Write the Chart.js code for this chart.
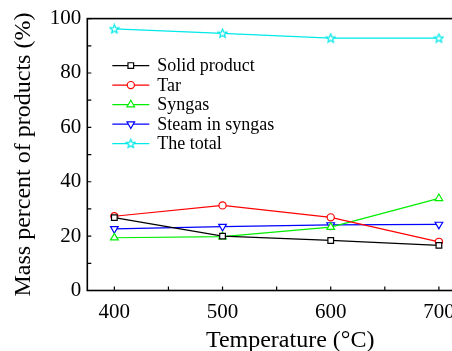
<!DOCTYPE html>
<html>
<head>
<meta charset="utf-8">
<script src="https://cdn.jsdelivr.net/npm/chart.js@4"></script>
<style>
  html, body { margin: 0; padding: 0; background: #fff; overflow: hidden; }
  #wrap { width: 510px; height: 351px; }
</style>
</head>
<body>
<div id="wrap"><canvas id="chart" width="510" height="351"></canvas></div>
<script>
// values
const temperatures = [400, 500, 600, 700];
const solidProduct = [26.8, 20.0, 18.4, 16.6];
const tar = [27.3, 31.3, 26.9, 17.9];
const syngas = [19.4, 19.8, 23.3, 33.9];
const steamInSyngas = [22.7, 23.5, 24.1, 24.3];
const total = [96.2, 94.6, 92.8, 92.8];
const seriesNames = ["Solid product", "Tar", "Syngas", "Steam in syngas", "The total"];
const xTicks = [400, 450, 500, 550, 600, 650, 700, 750];
const yTicks = [0, 10, 20, 30, 40, 50, 60, 70, 80, 90, 100];

const FONT = "'Liberation Serif', 'Times New Roman', serif";

// small outlined star used as point marker
function makeStar(color) {
  const c = document.createElement("canvas");
  c.width = 11;
  c.height = 11;
  const g = c.getContext("2d");
  g.beginPath();
  for (let i = 0; i < 10; i++) {
    const r = i % 2 === 0 ? 4.6 : 2.0;
    const a = -Math.PI / 2 + (i * Math.PI) / 5;
    const px = 5.5 + r * Math.cos(a);
    const py = 5.8 + r * Math.sin(a);
    if (i === 0) g.moveTo(px, py); else g.lineTo(px, py);
  }
  g.closePath();
  g.fillStyle = "#fff";
  g.fill();
  g.strokeStyle = color;
  g.lineWidth = 1.2;
  g.stroke();
  return c;
}

const toXY = (vals) => vals.map((v, i) => ({ x: temperatures[i], y: v }));

function series(label, vals, color, style, extra) {
  return Object.assign({
    label: label,
    data: toXY(vals),
    borderColor: color,
    backgroundColor: "#fff",
    pointBackgroundColor: "#fff",
    pointBorderColor: color,
    borderWidth: 1.2,
    pointBorderWidth: 1.2,
    pointRadius: 4,
    pointStyle: style,
    clip: false,
  }, extra || {});
}

const datasets = [
  series(seriesNames[0], solidProduct, "#000000", "rect"),
  series(seriesNames[1], tar, "#ff0000", "circle", { pointRadius: 3.6 }),
  series(seriesNames[2], syngas, "#00ee00", "triangle", { pointRadius: 4.4 }),
  series(seriesNames[3], steamInSyngas, "#0000ff", "triangle", { pointRadius: 4.4, pointRotation: 180 }),
  series(seriesNames[4], total, "#00e8e8", makeStar("#00e8e8")),
];

// box round the plot plus inward tick marks
const frameTicks = {
  id: "frameTicks",
  afterDraw(chart) {
    const { ctx, chartArea: a, scales } = chart;
    ctx.save();
    ctx.strokeStyle = "#000";
    ctx.lineWidth = 1.6;
    ctx.strokeRect(a.left, a.top, a.right - a.left, a.bottom - a.top);
    ctx.lineWidth = 1.2;
    ctx.beginPath();
    scales.y.ticks.forEach((t) => {
      const py = scales.y.getPixelForValue(t.value);
      ctx.moveTo(a.left, py);
      ctx.lineTo(a.left + 4, py);
    });
    scales.x.ticks.forEach((t) => {
      const px = scales.x.getPixelForValue(t.value);
      ctx.moveTo(px, a.bottom);
      ctx.lineTo(px, a.bottom - 4);
    });
    ctx.stroke();
    ctx.restore();
  },
};

// legend drawn inside the plot area
const innerLegend = {
  id: "innerLegend",
  afterDraw(chart) {
    const { ctx, chartArea: a } = chart;
    const x0 = a.left + 25;
    const y0 = a.top + 47;
    ctx.save();
    chart.data.datasets.forEach((ds, i) => {
      const y = y0 + i * 19.5;
      ctx.strokeStyle = ds.borderColor;
      ctx.lineWidth = 1.2;
      ctx.beginPath();
      ctx.moveTo(x0, y);
      ctx.lineTo(x0 + 37, y);
      ctx.stroke();
      ctx.fillStyle = "#fff";
      Chart.helpers.drawPoint(ctx, {
        pointStyle: ds.pointStyle,
        rotation: ds.pointRotation || 0,
        radius: ds.pointRadius,
        borderWidth: 1.2,
      }, x0 + 18.5, y);
      ctx.fillStyle = "#000";
      ctx.font = "18px " + FONT;
      ctx.textBaseline = "middle";
      ctx.fillText(ds.label, x0 + 45, y + 1);
    });
    ctx.restore();
  },
};

new Chart(document.getElementById("chart"), {
  type: "line",
  data: { datasets: datasets },
  options: {
    responsive: false,
    animation: false,
    events: [],
    layout: { padding: { top: 17, right: 8, left: 9, bottom: 0 } },
    plugins: { legend: { display: false }, tooltip: { enabled: false } },
    scales: {
      x: {
        type: "linear",
        min: 375,
        max: 750,
        afterBuildTicks: (s) => { s.ticks = xTicks.map((v) => ({ value: v })); },
        grid: { display: false, drawTicks: false },
        border: { display: false },
        ticks: {
          autoSkip: false,
          maxRotation: 0,
          padding: 17,
          color: "#000",
          font: { family: FONT, size: 21, lineHeight: 0.5 },
          callback: (v) => (v % 100 === 0 ? v : ""),
        },
        title: {
          display: true,
          text: "Temperature (°C)",
          color: "#000",
          font: { family: FONT, size: 24, lineHeight: 1.0 },
          padding: { top: -6, bottom: -2 },
        },
      },
      y: {
        min: 0,
        max: 100,
        afterBuildTicks: (s) => { s.ticks = yTicks.map((v) => ({ value: v })); },
        grid: { display: false, drawTicks: false },
        border: { display: false },
        ticks: {
          autoSkip: false,
          padding: 6,
          color: "#000",
          font: { family: FONT, size: 21 },
          callback: (v) => (v % 20 === 0 ? v : ""),
        },
        title: {
          display: true,
          text: "Mass percent of products (%)",
          color: "#000",
          font: { family: FONT, size: 24 },
          padding: { top: 0, bottom: 6 },
        },
      },
    },
  },
  plugins: [frameTicks, innerLegend],
});
</script>
</body>
</html>
